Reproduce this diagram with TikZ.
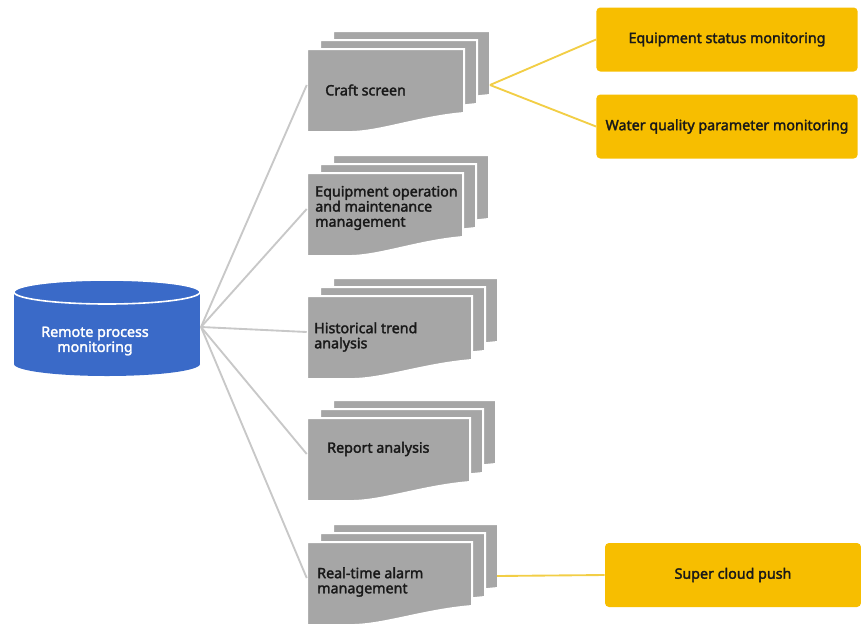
\documentclass[tikz,border=0pt]{standalone}
\usepackage{fontspec}
\setmainfont{Noto Sans}[AutoFakeBold=2.2]
\usepackage{xcolor}
\usetikzlibrary{positioning}
\definecolor{procblue}{RGB}{58,106,200}
\definecolor{sheetgray}{RGB}{166,166,166}
\definecolor{amberbox}{RGB}{247,190,0}
\definecolor{amberline}{RGB}{242,206,70}
\definecolor{linkgray}{RGB}{200,200,200}

% one sheet with a wavy bottom: x, y (top left), width
\newcommand{\docsheet}[3]{%
  \filldraw[fill=sheetgray, draw=white, line width=1.5pt]
    ({#1},{#2}) -- ({#1+#3},{#2}) -- ({#1+#3},{#2+64})
    .. controls ({#1+0.7*#3},{#2+68}) and ({#1+0.45*#3},{#2+84}) .. ({#1+0.25*#3},{#2+83})
    -- ({#1},{#2+83}) -- cycle;}
% stack of three sheets: name, x, y, width
\newcommand{\docstack}[4]{%
  \docsheet{#2+26}{#3-18}{#4}
  \docsheet{#2+13}{#3-9}{#4}
  \docsheet{#2}{#3}{#4}
  \node[sheetnode, minimum width={#4*0.75pt}] (#1) at ({#2+#4/2},{#3+36}) {};}

\begin{document}
\begin{tikzpicture}[x=0.75pt, y=-0.75pt,
  txt/.style={font=\fontsize{10.7}{11.3}\selectfont\bfseries, inner sep=0pt},
  lbl/.style={txt, anchor=west, align=left, text=black!90},
  sheetnode/.style={draw=none, minimum height=51pt, inner sep=0pt},
  ybox/.style={txt, fill=amberbox, rounded corners=3pt, minimum height=48pt, text=black!90},
  link/.style={draw=linkgray, line width=1.4pt},
  ylink/.style={draw=amberline, line width=1.4pt}]
  \useasboundingbox (0,0) rectangle (861,626);

  % database
  \fill[procblue] (14,292) rectangle (200,364);
  \fill[procblue] (107,364) ellipse [x radius=93, y radius=12];
  \filldraw[fill=procblue, draw=white, line width=1.2pt] (107,292) ellipse [x radius=93, y radius=12];
  \node[txt, text=white, align=center] (rpm) at (95,341) {Remote process\\monitoring};
  \coordinate (hub) at (201,327);

  % document stacks
  \docstack{craft}{307}{49}{157}
  \docstack{eqop}{307}{173}{156}
  \docstack{hist}{307}{296}{165}
  \docstack{report}{307}{418}{163}
  \docstack{alarm}{307}{542}{165}

  \node[lbl] (craftlbl) at (325,90) {Craft screen};
  \node[lbl] (eqoplbl) at (315,208) {Equipment operation\\and maintenance\\management};
  \node[lbl] (histlbl) at (314,337) {Historical trend\\analysis};
  \node[lbl] (reportlbl) at (327,449) {Report analysis};
  \node[lbl] (alarmlbl) at (317,582) {Real-time alarm\\management};

  % yellow boxes
  \node[ybox, minimum width=196pt] (eqstat) at (727,39.5) {Equipment status monitoring};
  \node[ybox, minimum width=196pt] (wqpm) at (727,126.5) {Water quality parameter monitoring};
  \node[ybox, minimum width=192pt] (cloud) at (733,575) {Super cloud push};

  % connectors
  \foreach \n in {craft, eqop, hist, report, alarm}
    \draw[link] (hub) -- (\n.west);
  \coordinate (craftout) at (490,85);
  \coordinate (alarmout) at (497,576);
  \draw[ylink] (craftout) -- (eqstat.west);
  \draw[ylink] (craftout) -- (wqpm.west);
  \draw[ylink] (alarmout) -- (cloud.west);
\end{tikzpicture}
\end{document}
